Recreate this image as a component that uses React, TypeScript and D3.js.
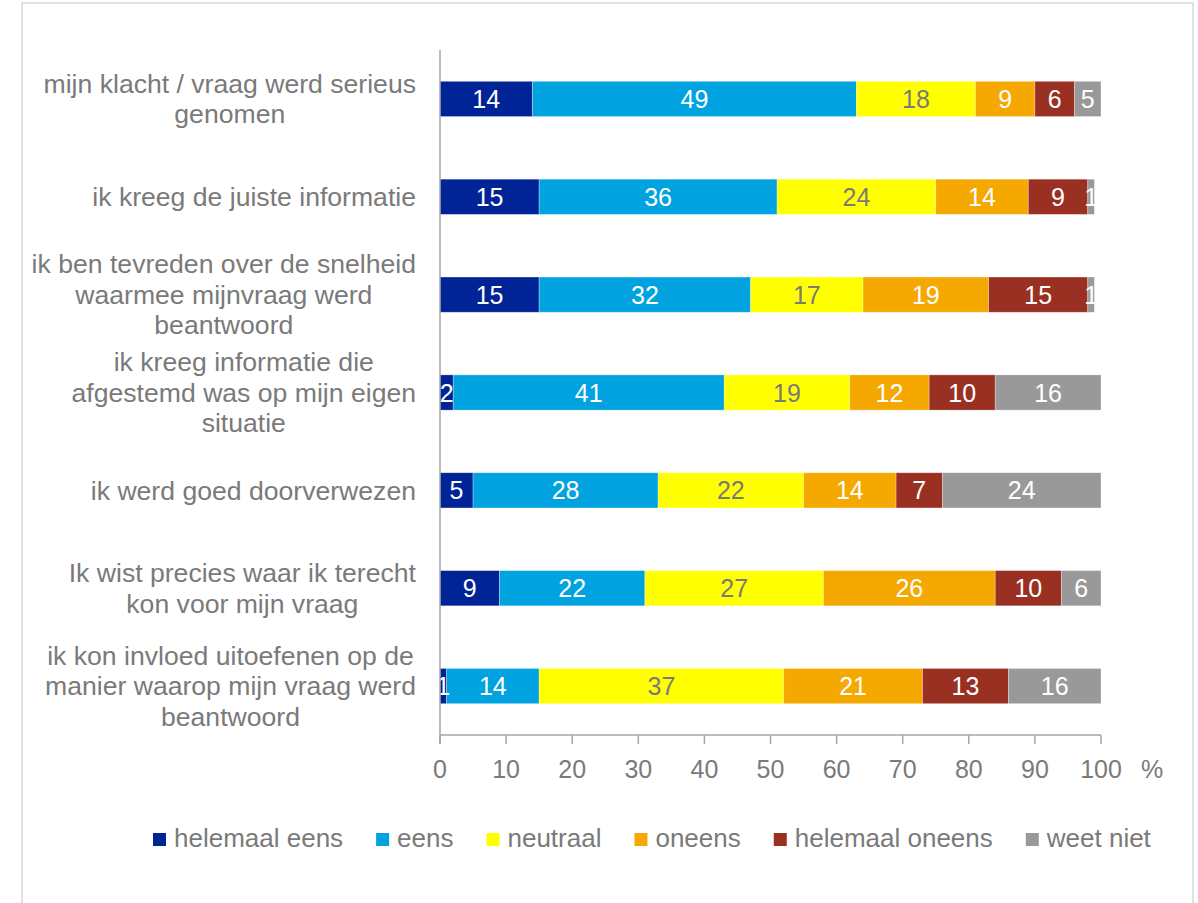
import React from "react";
import * as d3 from "d3";

const categories: string[][] = [
  ["mijn klacht / vraag werd serieus", "genomen"],
  ["ik kreeg de juiste informatie"],
  ["ik ben tevreden over de snelheid", "waarmee mijnvraag werd", "beantwoord"],
  ["ik kreeg informatie die", "afgestemd was op mijn eigen", "situatie"],
  ["ik werd goed doorverwezen"],
  ["Ik wist precies waar ik terecht", "kon voor mijn vraag"],
  ["ik kon invloed uitoefenen op de", "manier waarop mijn vraag werd", "beantwoord"],
];

const seriesNames = ["helemaal eens", "eens", "neutraal", "oneens", "helemaal oneens", "weet niet"];
const seriesColors = ["#002395", "#00A3E0", "#FFFF00", "#F5A800", "#993022", "#999999"];
const labelColors = ["#ffffff", "#ffffff", "#7a7a7a", "#ffffff", "#ffffff", "#ffffff"];

const helemaalEens = [14, 15, 15, 2, 5, 9, 1];
const eens = [49, 36, 32, 41, 28, 22, 14];
const neutraal = [18, 24, 17, 19, 22, 27, 37];
const oneens = [9, 14, 19, 12, 14, 26, 21];
const helemaalOneens = [6, 9, 15, 10, 7, 10, 13];
const weetNiet = [5, 1, 1, 16, 24, 6, 16];

const seriesValues = [helemaalEens, eens, neutraal, oneens, helemaalOneens, weetNiet];

const xTicks = [0, 10, 20, 30, 40, 50, 60, 70, 80, 90, 100];

const FONT = '"Liberation Sans", Arial, sans-serif';
const TEXT = "#7a7a7a";

let ctx: CanvasRenderingContext2D | null = null;
function measure(t: string, size: number): number {
  if (!ctx) ctx = document.createElement("canvas").getContext("2d");
  if (!ctx) return t.length * size * 0.5;
  ctx.font = `${size}px ${FONT}`;
  return ctx.measureText(t).width;
}

export default function App() {
  const W = 1198;
  const H = 903;
  const left = 440;
  const right = 1101;
  const top = 50;
  const bottom = 735;

  const x = d3.scaleLinear().domain([0, 100]).range([left, right]).clamp(true);
  const idx = categories.map((_, i) => String(i));
  const y = d3.scaleBand().domain(idx).range([top, bottom]).paddingInner(0.64).paddingOuter(0.32);

  const rows = categories.map((_, i) => {
    let acc = 0;
    return seriesValues.map((vals, s) => {
      const x0 = acc;
      const x1 = acc + vals[i];
      acc = x1;
      return { s, v: vals[i], x0, x1 };
    });
  });

  const catSize = 26.6;
  const lineH = 30.5;
  const labelRight = 416;
  const numSize = 25;

  // legend layout
  const legSize = 26;
  let lx = 153;
  const legendItems = seriesNames.map((name, i) => {
    const item = { name, i, x: lx };
    lx += 13 + 8 + measure(name, legSize) + 33;
    return item;
  });

  return (
    <svg width={W} height={H} style={{ position: "absolute", left: 0, top: 0, background: "#fff" }} fontFamily={FONT}>
      <rect x={0} y={0} width={W} height={H} fill="#fff" />
      <rect x={22} y={3} width={1171} height={940} fill="none" stroke="#d9d9d9" strokeWidth={1.5} />

      {/* bars */}
      {rows.map((segs, i) => (
        <g key={i}>
          {segs.map((d) => {
            const px0 = x(d.x0);
            const px1 = x(d.x1);
            if (px1 - px0 <= 0) return null;
            return (
              <rect
                key={d.s}
                x={px0}
                y={y(String(i))!}
                width={px1 - px0}
                height={y.bandwidth()}
                fill={seriesColors[d.s]}
                stroke="#ffffff"
                strokeOpacity={0.4}
                strokeWidth={0.75}
              />
            );
          })}
        </g>
      ))}

      {/* bar labels */}
      {rows.map((segs, i) => (
        <g key={"l" + i}>
          {segs.map((d) => {
            const px0 = x(d.x0);
            const px1 = x(d.x1);
            if (px1 - px0 <= 0) return null;
            return (
              <text
                key={d.s}
                x={(px0 + px1) / 2}
                y={y(String(i))! + y.bandwidth() / 2}
                dy="0.36em"
                textAnchor="middle"
                fontSize={numSize}
                fill={labelColors[d.s]}
              >
                {d.v}
              </text>
            );
          })}
        </g>
      ))}

      {/* y axis line */}
      <line x1={left} x2={left} y1={top} y2={bottom + 9} stroke="#a6a6a6" strokeWidth={1.5} />
      {/* x axis */}
      <line x1={left} x2={right} y1={bottom} y2={bottom} stroke="#a6a6a6" strokeWidth={1.5} />
      {xTicks.map((t) => (
        <g key={t}>
          <line x1={x(t)} x2={x(t)} y1={bottom} y2={bottom + 9} stroke="#a6a6a6" strokeWidth={1.5} />
          <text x={x(t)} y={778} textAnchor="middle" fontSize={numSize} fill={TEXT}>
            {t}
          </text>
        </g>
      ))}
      <text x={1152} y={778} textAnchor="middle" fontSize={numSize} fill={TEXT}>
        %
      </text>

      {/* category labels */}
      {categories.map((lines, i) => {
        const cy = y(String(i))! + y.bandwidth() / 2;
        const maxW = Math.max(...lines.map((l) => measure(l, catSize)));
        const cx = labelRight - maxW / 2;
        return (
          <text key={"c" + i} fontSize={catSize} fill={TEXT} textAnchor="middle">
            {lines.map((l, k) => (
              <tspan key={k} x={cx} y={cy + (k - (lines.length - 1) / 2) * lineH} dy="0.35em">
                {l}
              </tspan>
            ))}
          </text>
        );
      })}

      {/* legend */}
      {legendItems.map((it) => (
        <g key={it.name}>
          <rect x={it.x} y={833} width={13} height={13} fill={seriesColors[it.i]} />
          <text x={it.x + 13 + 8} y={847} fontSize={legSize} fill={TEXT}>
            {it.name}
          </text>
        </g>
      ))}
    </svg>
  );
}
